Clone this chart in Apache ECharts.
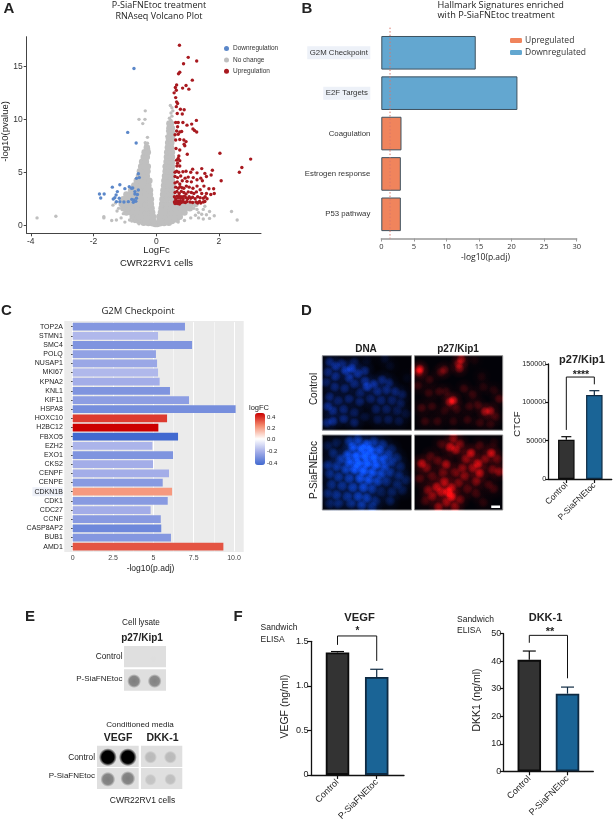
<!DOCTYPE html>
<html><head><meta charset="utf-8">
<style>html,body{margin:0;padding:0;background:#fff}#c{width:614px;height:823px}</style>
<script src="https://cdn.jsdelivr.net/npm/echarts@6/dist/echarts.min.js"></script>
</head><body><div id="c"></div>
<script>
// ---------- A: volcano data [logFC, -log10 p] ----------
const volcanoUp = [[.74,17],[1.02,15.85],[1.29,15.5],[.87,15.25],[.75,14.45],[.71,14.3],[1.15,13.7],[.65,13.25],[.61,13],[.95,13.2],[.84,12.95],[1.04,12.85],[.64,12.75],[.57,12.5],[.62,12.05],[.65,11.65],[.68,11.5],[.64,11.2],[.77,10.95],[.89,10.9],[.67,10.55],[.83,10.5],[.62,9.7],[.7,9.7],[.85,9.7],[1.28,9.9],[1.13,9.55],[.98,9.45],[.68,9.3],[1.17,9.1],[1.22,8.95],[1.29,8.8],[.81,8.85],[.75,8.8],[.65,8.9],[.6,8.55],[.7,8.6],[.75,8.1],[.62,8.05],[.88,8.05],[.95,7.9],[.89,7.65],[.91,7.5],[.63,7.25],[.75,7.1],[2.03,6.8],[.99,6.7],[.72,6.55],[.7,6.3],[.65,6.15],[3.01,6.25],[.75,6.1],[.68,5.85],[.75,5.6],[.66,5.6],[1.16,5.3],[1.45,5.35],[1.79,5.2],[2.73,5.45],[2.65,5],
[.6,5],[.65,5.1],[.72,5],[.85,5.05],[.95,5.1],[1.1,5],[1.3,4.95],[1.55,4.9],[1.75,4.75],[.6,4.6],[.68,4.5],[.78,4.65],[.92,4.45],[1.02,4.55],[1.18,4.5],[1.42,4.45],[1.6,4.6],[2.07,4.2],[1.47,4.2],[1.3,4.3],[1.12,4.1],[.98,4.15],[.83,4.2],[.67,4.1],[.6,4],[.75,3.9],[.62,3.6],[.7,3.5],[.76,3.65],[.82,3.55],[.88,3.5],[.96,3.7],[1.05,3.6],[1.17,3.5],[1.3,3.7],[1.52,3.7],[1.68,3.45],[1.83,3.45],[1.4,3.35],[.6,3.1],[.66,3.2],[.73,3],[.8,3.2],[.88,3.1],[.95,2.95],[1.02,3.15],[1.12,3.1],[1.2,3],[1.28,3.15],[1.45,3],[1.6,3],[1.74,2.9],[1.85,3],
[.58,2.7],[.62,2.5],[.66,2.75],[.7,2.6],[.74,2.75],[.78,2.55],[.82,2.7],[.86,2.5],[.9,2.75],[.95,2.6],[1,2.5],[1.05,2.7],[1.1,2.55],[1.16,2.65],[1.24,2.5],[1.32,2.7],[1.4,2.6],[1.5,2.55],[1.56,2.7],[1.62,2.5],[.58,2.2],[.62,2.3],[.65,2.15],[.69,2.3],[.72,2.15],[.76,2.3],[.8,2.15],[.84,2.3],[.88,2.2],[.93,2.15],[.98,2.25],[1.08,2.2],[1.16,2.15],[1.27,2.2],[1.32,2.1],[1.38,2.25],[1.42,2.1],[1.5,2.2],[1.55,2.25],[.6,2.05],[.67,2.05],[.74,2]];
const volcanoDown = [[-.71,14.8],[-.91,8.77],[-.64,7.77],[-.57,4.87],[-.54,4.5],[-.63,4.43],[-1.81,2.95],[-1.66,2.95],[-1.77,2.58],[-1.4,3.6],[-1.16,3.83],[-1,3.46],[-.86,3.65],[-.75,3.52],[-1.24,3.18],[-.68,3.18],[-.68,2.96],[-.6,2.9],[-1.28,2.86],[-1.32,2.6],[-1.37,2.48],[-1.18,2.55],[-1.27,2.23],[-1.16,2.23],[-1.03,2.2],[-.89,2.23],[-.78,2.45],[-.71,2.39],[-.65,2.26],[-.73,2.17],[-.63,2.55],[-.79,3.49],[-.57,3.33]];
const volcanoNoChangeSparse = [[-.35,10.8],[-.55,10],[-.36,10],[-.43,9.6],[-.28,8.3],[-.35,7.8],[-.28,7.75],[-.3,7.4],[-.33,7.6],[-.24,7.2],[.45,11.3],[.5,11.1],[.53,10.8],[.47,10.6],[.5,10.3],[.42,10.1],[.47,9.9],[.4,9.6],[.36,8.9],[.34,8.4],[-3.8,.7],[-3.2,.85],[-1.67,.8],[-1.67,.7],[-1.42,.45],[-1.27,.5],[-1.12,.7],[-1,.3],[-.85,.5],[-.78,.4],[-.68,.35],[-.55,.15],[-1.38,1.9],[-1.3,2.1],[-1.2,1.6],[-1.25,1.35],[-1.05,1.1],[2.4,1.3],[2.58,.5],[1.7,.65],[1.5,.6],[1.35,.7],[1.25,.95],[1.35,1.2],[1.1,.7],[1.45,1.05],[1.6,1],[1.7,1.3],[1.85,.9],[1.3,1.5],[1.5,1.5],[1.2,1.6],[1.55,1.8],[.9,.45],[.7,.3]];
const volcanoNoChangeDense = [[-.03,.12],[.03,.12],[-.12,.2],[.12,.2],[-.25,.22],[.25,.22],[-.4,.25],[.4,.25],[-.55,.4],[.5,.4],[-.68,.55],[.65,.55],[-.1,.8],[.1,.8],
[-.35,.4],[-.2,.4],[-.1,.4],[.1,.4],[.2,.4],[.35,.4],
[-.75,.8],[-.6,.8],[-.45,.8],[-.3,.8],[-.15,.8],[.15,.8],[.3,.8],[.45,.8],[.6,.8],[.75,.8],
[-.95,1.2],[-.8,1.2],[-.65,1.2],[-.5,1.2],[-.35,1.2],[-.2,1.2],[-.13,1.2],[.15,1.2],[.3,1.2],[.45,1.2],[.6,1.2],[.75,1.2],[.9,1.2],
[-1.05,1.6],[-.9,1.6],[-.75,1.6],[-.6,1.6],[-.45,1.6],[-.3,1.6],[-.15,1.6],[.17,1.6],[.32,1.6],[.47,1.6],[.62,1.6],[.77,1.6],[.92,1.6],[1.07,1.6],
[-1.1,2],[-.95,2],[-.8,2],[-.65,2],[-.5,2],[-.35,2],[-.17,2],[.19,2],[.34,2],[.49,2],[.64,2],[.79,2],[.94,2],[1.1,2],[1.25,2],
[-1.05,2.45],[-.9,2.45],[-.75,2.45],[-.6,2.45],[-.45,2.45],[-.3,2.45],[-.17,2.45],[.2,2.45],[.35,2.45],[.5,2.45],
[-.95,2.9],[-.8,2.9],[-.65,2.9],[-.5,2.9],[-.35,2.9],[-.2,2.9],[.22,2.9],[.37,2.9],[.5,2.9],
[-.8,3.3],[-.65,3.3],[-.5,3.3],[-.35,3.3],[-.2,3.3],[.23,3.3],[.37,3.3],[.5,3.3],
[-.7,3.75],[-.55,3.75],[-.4,3.75],[-.25,3.75],[.25,3.75],[.38,3.75],[.5,3.75],
[-.62,4.2],[-.48,4.2],[-.34,4.2],[-.22,4.2],[.26,4.2],[.38,4.2],[.5,4.2],
[-.55,4.65],[-.42,4.65],[-.3,4.65],[.28,4.65],[.4,4.65],[.5,4.65],
[-.52,5.1],[-.4,5.1],[-.28,5.1],[.3,5.1],[.4,5.1],[.5,5.1],
[-.48,5.55],[-.36,5.55],[-.27,5.55],[.3,5.55],[.42,5.55],[.5,5.55],
[-.45,6],[-.33,6],[.33,6],[.43,6],[.5,6],
[-.4,6.45],[-.3,6.45],[.34,6.45],[.44,6.45],[.5,6.45],
[-.37,6.9],[-.27,6.9],[.35,6.9],[.45,6.9],[.5,6.9],
[-.3,7.35],[.37,7.35],[.47,7.35],[.38,7.8],[.48,7.8],[.4,8.25],[.5,8.25],[.43,8.7],[.5,8.7],[.42,9.15],[.5,9.15],[.42,9.6],[.47,9.6]];

// ---------- B: hallmark signatures ----------
const hallmarkNames = ['G2M Checkpoint','E2F Targets','Coagulation','Estrogen response','P53 pathway'];
const hallmarkUp = [null,null,3.1,3.0,3.0];
const hallmarkDown = [14.5,20.9,null,null,null];
const hallmarkCutoff = [1.34];

// ---------- C: G2M genes ----------
const genes = ['TOP2A','STMN1','SMC4','POLQ','NUSAP1','MKI67','KPNA2','KNL1','KIF11','HSPA8','HOXC10','H2BC12','FBXO5','EZH2','EXO1','CKS2','CENPF','CENPE','CDKN1B','CDK1','CDC27','CCNF','CASP8AP2','BUB1','AMD1'];
const geneP = [6.96,5.29,7.40,5.16,5.23,5.29,5.39,6.03,7.21,10.1,5.85,5.31,6.53,4.94,6.22,4.98,5.97,5.58,6.16,5.89,4.83,5.46,5.49,6.09,9.34];
const geneLogFC = [-.27,-.17,-.28,-.24,-.22,-.17,-.2,-.28,-.25,-.3,.37,.46,-.42,-.18,-.28,-.2,-.2,-.26,.22,-.26,-.2,-.26,-.32,-.27,.33];
const geneTicks = [0,2.5,5,7.5,10];
const geneTickLabels = ['0','2.5','5','7.5','10.0'];

// ---------- D: micrographs (cell x%, y%, brightness) and CTCF bars ----------
const dnaControl = [[8,8,.6],[15,14,.7],[6,22,.6],[22,10,.5],[26,20,.8],[33,17,.85],[36,8,.4],[15,28,.7],[30,30,.7],[40,24,.7],[48,20,.6],[4,36,.5],[14,42,.6],[25,44,.6],[36,38,.6],[48,34,.6],[50,42,.85],[58,38,.7],[67,32,.6],[75,36,.5],[62,48,.6],[72,46,.6],[82,48,.55],[90,52,.4],[42,50,.5],[8,55,.6],[6,68,.7],[18,60,.55],[30,58,.6],[42,62,.55],[54,58,.55],[66,60,.55],[78,60,.5],[88,64,.4],[12,74,.65],[24,72,.6],[36,76,.5],[60,72,.5],[72,72,.5],[84,74,.4],[12,88,.7],[24,85,.65],[36,90,.55],[48,82,.3],[62,86,.4],[74,86,.45],[86,88,.35],[94,78,.25],[5,90,.6],[50,6,.15],[70,4,.2],[76,14,.15],[95,30,.1]];
const dnaTreated = [[30,8,.6],[40,6,.7],[50,12,.8],[58,8,.55],[68,12,.5],[78,18,.35],[34,16,.9],[44,18,1],[54,20,.95],[64,20,.8],[74,26,.55],[84,30,.4],[28,26,.85],[38,28,1],[48,28,1],[58,30,1],[68,32,.8],[78,36,.5],[88,42,.4],[12,24,.5],[20,32,.6],[30,36,.85],[40,38,1],[50,38,1],[60,40,.95],[70,42,.7],[6,40,.6],[16,42,.6],[26,46,.7],[36,46,.9],[46,48,1],[56,50,.9],[66,52,.7],[76,50,.55],[86,54,.45],[94,60,.35],[8,52,.55],[18,56,.6],[30,58,.7],[42,58,.9],[52,60,.85],[62,62,.7],[72,62,.5],[84,66,.4],[10,66,.55],[22,68,.6],[34,70,.75],[46,70,.85],[56,72,.6],[66,76,.35],[78,76,.4],[90,74,.3],[6,78,.5],[16,80,.6],[28,82,.6],[40,82,.75],[50,84,.7],[60,88,.45],[76,88,.4],[18,92,.5],[32,92,.55],[44,94,.7],[56,96,.5],[8,92,.4],[16,10,.35],[6,14,.3]];
const kipControl = [[6,18,1],[5,22,.6],[53,5,.75],[51,17,.6],[50,11,.5],[34,19,.45],[30,22,.35],[17,32,.3],[4,40,.3],[16,50,.3],[28,48,.3],[44,60,.95],[40,62,.7],[36,48,.25],[56,44,.3],[66,52,.3],[78,42,.2],[90,46,.2],[96,58,.4],[8,70,.35],[20,68,.3],[34,74,.25],[48,72,.3],[62,68,.3],[72,66,.35],[80,75,.75],[86,74,.7],[92,82,.3],[12,88,.3],[26,88,.3],[44,88,.25],[60,86,.3],[74,90,.3],[86,92,.25],[68,6,.12],[76,28,.15]];
const kipTreated = [[42,82,1],[38,76,.8],[34,62,.8],[42,70,.7],[25,69,.75],[30,76,.7],[15,73,.55],[20,82,.6],[8,38,.85],[14,44,.5],[36,39,.8],[26,34,.4],[18,28,.35],[64,24,.95],[58,32,.6],[87,24,.95],[80,32,.5],[72,38,.9],[66,44,.6],[74,51,.85],[70,62,.6],[96,49,.65],[88,46,.5],[47,20,.7],[40,16,.8],[44,4,.6],[52,12,.5],[30,12,.3],[54,44,.55],[46,50,.5],[57,55,.6],[50,64,.5],[60,72,.4],[27,96,.7],[46,96,.6],[36,90,.6],[52,86,.5],[12,88,.3],[70,78,.3],[84,66,.3],[90,72,.25],[6,58,.4],[20,55,.4],[32,50,.45],[74,14,.35],[90,10,.15],[94,32,.45],[78,90,.2]];
const scaleBar = [[87,95.5],[97,95.5]];
const groupNames = ['Control','P-SiaFNEtoc'];
const ctcfMean = [51200,109600];
const ctcfTop = [55200,115200];
const ctcfBracket = [[1,64000],[1,133000],[2,133000],[2,123500]];

// ---------- E: dot blots (spot x%, y%, grey level) ----------
const blotP27Control = [[70,62,222]];
const blotP27Treated = [[24,55,125],[73,55,130]];
const blotVegfControl = [[26,54,0],[74,54,0]];
const blotVegfTreated = [[26,54,125],[74,50,125]];
const blotDkkControl = [[23,54,185],[71,54,185]];
const blotDkkTreated = [[23,56,195],[71,54,190]];

// ---------- F: ELISA ----------
const vegfMean = [1.375,1.10];
const vegfTop = [1.385,1.186];
const vegfBracket = [[1,1.46],[1,1.56],[2,1.56],[2,1.28]];
const dkkMean = [40.5,28.2];
const dkkTop = [43.7,30.6];
const dkkBracket = [[1,46.7],[1,49.4],[2,49.4],[2,33.8]];

// ---------- texts ----------
const SANS='"Liberation Sans",Arial,sans-serif', OPEN='"Open Sans",sans-serif';
const texts = [
 ['A',9,8.5,15,'b',SANS,'center'],['B',307,8.5,15,'b',SANS,'center'],['C',6.5,311,15,'b',SANS,'center'],['D',306.5,311,15,'b',SANS,'center'],['E',30,617,15,'b',SANS,'center'],['F',238,617,15,'b',SANS,'center'],
 ['P-SiaFNEtoc treatment',159,5,9,'n',OPEN,'center'],['RNAseq Volcano Plot',159,16,9,'n',OPEN,'center'],
 ['LogFc',156.5,250.5,9.5,'n',SANS,'center'],['CWR22RV1 cells',156.5,263,9.5,'n',SANS,'center'],['-log10(pvalue)',5.5,131.5,9.5,'n',SANS,'center',90],
 ['Hallmark Signatures enriched',437.5,5,9.2,'n',OPEN,'left'],['with P-SiaFNEtoc treatment',437.5,15.5,9.2,'n',OPEN,'left'],['-log10(p.adj)',485.5,257.5,8.5,'n',OPEN,'center'],
 ['G2M Checkpoint',138,311,9.5,'n',OPEN,'center'],['-log10(p.adj)',150.5,569,8.5,'n',SANS,'center'],['logFC',259,408,7.5,'n',SANS,'center'],
 ['0.4',267,417.7,6,'n',SANS,'left'],['0.2',267,428.3,6,'n',SANS,'left'],['0.0',267,439.7,6,'n',SANS,'left'],['-0.2',267,451.3,6,'n',SANS,'left'],['-0.4',267,463.3,6,'n',SANS,'left'],
 ['DNA',366,349.5,10,'b',SANS,'center'],['p27/Kip1',458,349.5,10,'b',SANS,'center'],['Control',314.5,389,10,'n',SANS,'center',90],['P-SiaFNEtoc',314.5,470,10,'n',SANS,'center',90],
 ['p27/Kip1',582,360,11,'b',SANS,'center'],['CTCF',517,424,9.5,'n',SANS,'center',90],['****',581,375,10.5,'b',SANS,'center'],
 ['Cell lysate',141,622.5,8.2,'n',SANS,'center'],['p27/Kip1',142,638.5,10,'b',SANS,'center'],['Control',122.5,657,8.3,'n',SANS,'right'],['P-SiaFNEtoc',122.5,679,8,'n',SANS,'right'],
 ['Conditioned media',140,725,8.1,'n',SANS,'center'],['VEGF',118,738.5,10.5,'b',SANS,'center'],['DKK-1',162.5,738,10.5,'b',SANS,'center'],['Control',95,757.5,8.3,'n',SANS,'right'],['P-SiaFNEtoc',95,776,8,'n',SANS,'right'],['CWR22RV1 cells',142.5,801,8.5,'n',SANS,'center'],
 ['VEGF',359.5,617.5,11.2,'b',SANS,'center'],['DKK-1',545.5,617.5,11,'b',SANS,'center'],
 ['Sandwich',260.5,628,8.5,'n',SANS,'left'],['ELISA',260.5,640,8.5,'n',SANS,'left'],['Sandwich',457,619.5,8.5,'n',SANS,'left'],['ELISA',457,631,8.5,'n',SANS,'left'],
 ['VEGF (ng/ml)',285.5,706.5,10.5,'n',SANS,'center',90],['DKK1 (ng/ml)',477.5,700,10.5,'n',SANS,'center',90],['*',357.5,631.5,10,'b',SANS,'center'],['**',550,631.5,11,'b',SANS,'center']
];

// ---------- assemble ----------
const grid=[],xAxis=[],yAxis=[],series=[];
function addGrid(g,x,y){grid.push(g);x.gridIndex=y.gridIndex=grid.length-1;xAxis.push(x);yAxis.push(y);return grid.length-1;}

// A
{
 const i=addGrid({left:26.7,top:36.7,width:234.3,height:196.6},
  {type:'value',min:-4.13,max:3.34,splitLine:{show:false},axisLine:{onZero:false,lineStyle:{color:'#444',width:1}},axisTick:{length:3,customValues:[-4,-2,0,2],lineStyle:{color:'#444'}},axisLabel:{customValues:[-4,-2,0,2],fontSize:8.5,color:'#333',fontFamily:SANS,margin:4}},
  {type:'value',min:-.755,max:17.8,splitLine:{show:false},axisLine:{show:true,onZero:false,lineStyle:{color:'#444',width:1}},axisTick:{show:true,length:3,customValues:[0,5,10,15],lineStyle:{color:'#444'}},axisLabel:{customValues:[0,5,10,15],fontSize:8.5,color:'#333',fontFamily:SANS,margin:4}});
 const sc=(name,data,color,size,z)=>series.push({name,type:'scatter',xAxisIndex:i,yAxisIndex:i,data,symbolSize:size,z,silent:true,itemStyle:{color,opacity:1}});
 sc('core',volcanoNoChangeDense,'#bfbfbf',6.5,1);
 sc('No change',volcanoNoChangeSparse,'#bfbfbf',3.4,2);
 sc('Downregulation',volcanoDown,'#5b87c9',3.4,3);
 sc('Upregulation',volcanoUp,'#a8191f',3.4,4);
}
// B
{
 const labelRich={h:{fontSize:7.8,fontFamily:SANS,color:'#333',backgroundColor:'#edf1f8',padding:[2.5,2.5]},p:{fontSize:7.8,fontFamily:SANS,color:'#333',padding:[2,0]}};
 const i=addGrid({left:381.3,top:32.6,width:195.4,height:201.9},
  {type:'value',min:0,max:30,interval:5,offset:4,splitLine:{show:false},axisLine:{show:true,lineStyle:{color:'#999',width:1.5}},axisTick:{show:true,length:3,lineStyle:{color:'#999'}},axisLabel:{fontSize:7.5,color:'#333',fontFamily:OPEN,margin:4}},
  {type:'category',inverse:true,data:hallmarkNames,axisLine:{show:false},axisTick:{show:false},axisLabel:{margin:11,interval:0,rich:labelRich,formatter:(v,idx)=>idx<2?'{h|'+v+'}':'{p|'+v+'}'}});
 const bar=(name,data,color)=>series.push({name,type:'bar',stack:'h',xAxisIndex:i,yAxisIndex:i,data,barWidth:33.6,silent:true,itemStyle:{color,borderColor:'#3e5260',borderWidth:1}});
 bar('Upregulated',hallmarkUp,'#f0845c');
 bar('Downregulated',hallmarkDown,'#63a7d0');
 series.push({type:'custom',xAxisIndex:i,yAxisIndex:i,data:hallmarkCutoff.map(v=>[v,0]),silent:true,z:5,clip:false,
  renderItem:(p,api)=>{const x=api.coord([api.value(0),0])[0],c=p.coordSys;return{type:'line',shape:{x1:x,y1:c.y-5,x2:x,y2:c.y+c.height+4},style:{stroke:'#d9776b',fill:null,lineWidth:1,lineDash:[1.5,2]}};}});
}
// C
let geneSeriesIndex;
{
 const labelRich={h:{fontSize:7,fontFamily:SANS,color:'#222',backgroundColor:'#edf0f8',padding:[1,0,1,2]},p:{fontSize:7,fontFamily:SANS,color:'#222'}};
 const i=addGrid({left:72.7,top:322.1,width:171,height:229.2},
  {type:'value',min:0,max:10.6,interval:2.5,minorTick:{show:false,splitNumber:2},minorSplitLine:{show:true,lineStyle:{color:'#fff',width:.5}},splitLine:{show:true,lineStyle:{color:'#fff',width:1}},axisLine:{show:false},axisTick:{show:false,customValues:geneTicks},axisLabel:{customValues:geneTicks,fontSize:7,color:'#444',fontFamily:SANS,margin:3,formatter:v=>geneTickLabels[geneTicks.indexOf(v)]}},
  {type:'category',inverse:true,data:genes,offset:8.4,axisLine:{show:false},axisTick:{show:true,length:1.5,alignWithLabel:true,lineStyle:{color:'#333'}},axisLabel:{margin:1.5,interval:0,rich:labelRich,formatter:v=>v==='CDKN1B'?'{h|'+v+'}':'{p|'+v+'}'}});
 series.push({type:'bar',xAxisIndex:i,yAxisIndex:i,barWidth:7.8,silent:true,encode:{x:0,y:1},data:genes.map((g,k)=>[geneP[k],g,geneLogFC[k]])});
 geneSeriesIndex=series.length-1;
}
// D micrographs: a soft haze layer plus the individual nuclei
function micro(left,top,w,h,cells,rgb,size,gain,haze){
 const i=addGrid({show:true,left,top,width:w,height:h,backgroundColor:'#020208',borderColor:'#8a8a8a',borderWidth:1},
  {type:'value',min:0,max:100,show:false},{type:'value',min:0,max:100,inverse:true,show:false});
 const grad={type:'radial',x:.5,y:.5,r:.5,colorStops:[{offset:0,color:`rgba(${rgb},1)`},{offset:.5,color:`rgba(${rgb},.7)`},{offset:1,color:`rgba(${rgb},0)`}]};
 const layer=(sz,g)=>series.push({type:'scatter',xAxisIndex:i,yAxisIndex:i,silent:true,blendMode:'lighter',symbolSize:sz,itemStyle:{color:grad},data:cells.map(c=>({value:[c[0],c[1]],itemStyle:{opacity:c[2]*g}}))});
 layer(size*2,haze);
 layer(size,gain);
 return i;
}
micro(322.3,355.7,89.2,74.5,dnaControl,'15,65,210',11,.62,.2);
micro(414.5,355.7,88.2,74.5,kipControl,'225,15,15',10.5,.62,.22);
micro(322.3,435,89.2,75,dnaTreated,'12,78,235',11.5,.62,.22);
const kipIdx=micro(414.5,435,88.2,75,kipTreated,'245,12,12',11,.62,.22);
series.push({type:'line',xAxisIndex:kipIdx,yAxisIndex:kipIdx,data:scaleBar,showSymbol:false,silent:true,z:6,lineStyle:{color:'#fff',width:2.5}});

// bar helper for D + F
function barPanel(cfg){
 const c=cfg;
 const i=addGrid({left:c.left,top:c.top,width:c.width,height:c.height},
  {type:'value',min:c.xmin,max:c.xmax,splitLine:{show:false},axisLine:{onZero:false,lineStyle:{color:'#111',width:1.3}},axisTick:{length:4,customValues:[1,2],lineStyle:{color:'#111',width:1.2}},axisLabel:{customValues:[1,2],rotate:45,margin:c.lm,fontSize:c.xfs,color:'#222',fontFamily:SANS,formatter:v=>groupNames[v-1]}},
  {type:'value',min:0,max:c.ymax,interval:c.yint,splitLine:{show:false},axisLine:{show:true,onZero:false,lineStyle:{color:'#111',width:1.3}},axisTick:{show:true,length:c.yticklen,lineStyle:{color:'#111',width:1.2}},axisLabel:{fontSize:c.yfs,color:'#222',fontFamily:SANS,margin:c.ym,formatter:c.yfmt}});
 const cols=[['#333333','#0b0b0b'],['#1a6496','#0e2a42']];
 series.push({type:'bar',xAxisIndex:i,yAxisIndex:i,barWidth:c.bw,silent:true,clip:false,data:c.mean.map((v,k)=>({value:[k+1,v],itemStyle:{color:cols[k][0],borderColor:cols[k][1],borderWidth:c.bb}}))});
 series.push({type:'custom',xAxisIndex:i,yAxisIndex:i,silent:true,clip:false,z:1,data:c.mean.map((v,k)=>[k+1,v,c.top2[k]]),
  renderItem:(p,api)=>{const a=api.coord([api.value(0),api.value(1)]),b=api.coord([api.value(0),api.value(2)]),cap=c.cap;
   const st={stroke:cols[p.dataIndex][1],lineWidth:1.2};
   return{type:'group',children:[{type:'line',shape:{x1:a[0],y1:a[1],x2:b[0],y2:b[1]},style:st},{type:'line',shape:{x1:b[0]-cap,y1:b[1],x2:b[0]+cap,y2:b[1]},style:st}]};}});
 series.push({type:'line',xAxisIndex:i,yAxisIndex:i,data:c.bracket,showSymbol:false,silent:true,clip:false,z:3,lineStyle:{color:'#111',width:1}});
}
barPanel({left:548.3,top:364,width:63.4,height:115,xmin:.357,xmax:2.62,ymax:150000,yint:50000,yticklen:3,lm:5,xfs:8.5,yfs:7.2,ym:2,bw:16.5,bb:1.2,cap:5,mean:ctcfMean,top2:ctcfTop,bracket:ctcfBracket,yfmt:v=>String(v)});
barPanel({left:311,top:641.3,width:93,height:133.7,xmin:.324,xmax:2.696,ymax:1.5,yint:.5,yticklen:4,lm:6,xfs:9,yfs:9,ym:2.5,bw:23.5,bb:1.8,cap:6.5,mean:vegfMean,top2:vegfTop,bracket:vegfBracket,yfmt:v=>v===0?'0':v.toFixed(1)});
barPanel({left:503.7,top:633.7,width:89.6,height:137.6,xmin:.33,xmax:2.675,ymax:50,yint:10,yticklen:4,lm:6,xfs:9,yfs:9,ym:2.5,bw:23.5,bb:1.8,cap:6.5,mean:dkkMean,top2:dkkTop,bracket:dkkBracket,yfmt:v=>String(v)});

// E blots
function blot(left,top,w,h,spots,size){
 const i=addGrid({show:true,left,top,width:w,height:h,backgroundColor:'#dfdfdf',borderWidth:0},
  {type:'value',min:0,max:100,show:false},{type:'value',min:0,max:100,inverse:true,show:false});
 series.push({type:'scatter',xAxisIndex:i,yAxisIndex:i,silent:true,symbolSize:size,data:spots.map(s=>{const g=s[2];return{value:[s[0],s[1]],itemStyle:{opacity:1,color:{type:'radial',x:.5,y:.5,r:.5,colorStops:[{offset:0,color:`rgba(${g},${g},${g},1)`},{offset:.68,color:`rgba(${g},${g},${g},${g<10?1:.9})`},{offset:1,color:`rgba(${g},${g},${g},0)`}]}}};})});
}
blot(124,646,42,21.3,blotP27Control,7);
blot(124,669.3,42,21.4,blotP27Treated,14);
blot(97,745.7,41.7,21.3,blotVegfControl,18);
blot(97,768,41.7,21,blotVegfTreated,15);
blot(141,745.7,41.3,21.3,blotDkkControl,13);
blot(141,768,41.3,21,blotDkkTreated,12);

const graphic=[
 {type:'rect',silent:true,z:-10,shape:{x:64.3,y:321,width:179.4,height:231},style:{fill:'#ebebeb'}},
 ...texts.map(t=>({type:'text',silent:true,z:20,x:t[1],y:t[2],rotation:t[7]?t[7]*Math.PI/180:0,style:{text:t[0],fontSize:t[3],fontWeight:t[4]==='b'?'bold':'normal',fontFamily:t[5],fill:'#222',align:t[6],verticalAlign:'middle'}}))
];

const option={
 animation:false,backgroundColor:'#fff',grid,xAxis,yAxis,series,graphic,
 tooltip:{show:false},
 legend:[
  {left:224,top:45,orient:'vertical',data:['Downregulation','No change','Upregulation'],icon:'circle',itemWidth:5,itemHeight:5,itemGap:4.4,selectedMode:false,itemStyle:{borderWidth:0},textStyle:{fontSize:6.5,fontFamily:SANS,color:'#333',padding:[0,0,0,-1]},padding:0},
  {left:510,top:36,orient:'vertical',data:['Upregulated','Downregulated'],icon:'roundRect',itemWidth:12,itemHeight:5,itemGap:3,selectedMode:false,itemStyle:{borderWidth:0},textStyle:{fontSize:8.5,fontFamily:OPEN,color:'#333',padding:[0,0,0,-2]},padding:0}
 ],
 visualMap:[{type:'continuous',seriesIndex:geneSeriesIndex,dimension:2,min:-.42,max:.46,left:255,top:413,itemWidth:10,itemHeight:52,calculable:false,realtime:false,padding:0,inRange:{color:['#4169d0','#a3ade8','#ffffff','#f58f72','#cc0000']},text:null,hoverLink:false}]
};
echarts.init(document.getElementById('c'),null,{renderer:'canvas'}).setOption(option);
</script></body></html>
